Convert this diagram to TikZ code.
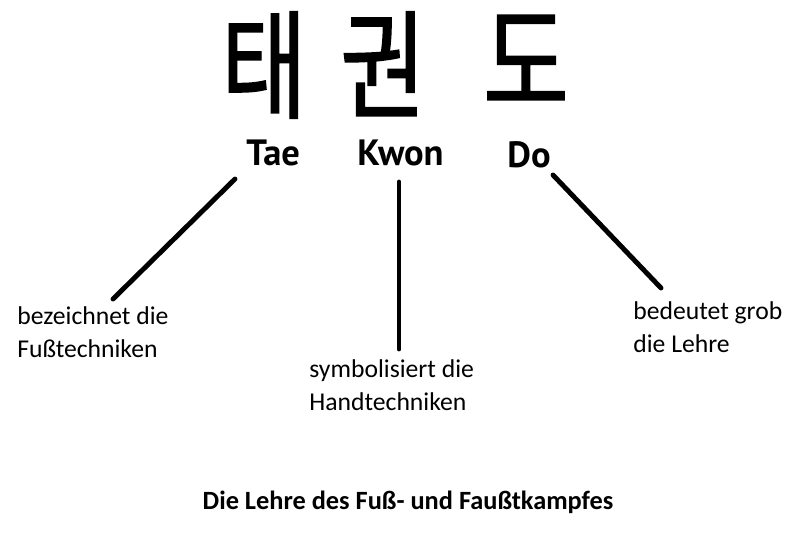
\documentclass[tikz,border=0pt]{standalone}
\usepackage{fontspec}
\setmainfont{Carlito}
\newfontfamily\hangulfont[FakeBold=1.5]{Noto Sans CJK KR}
\newfontfamily\wordfont{PT Sans}
\usetikzlibrary{positioning,calc}
\tikzset{
	hangul/.style={font=\hangulfont\fontsize{67}{75}\selectfont, inner sep=0pt, anchor=base, xscale=0.79, transform shape},
	word/.style={font=\wordfont\bfseries\fontsize{20.8}{24}\selectfont, inner sep=0pt, anchor=base west},
	meaning/.style={font=\fontsize{14.6}{18.5}\selectfont, inner sep=0pt, anchor=base west, align=left},
}
\begin{document}
\begin{tikzpicture}[x=0.02cm, y=-0.02cm]
		\useasboundingbox (0,0) rectangle (800,532);
		\node at (264,109) [hangul] (tae-h) {태};
		\node at (383,109) [hangul] (kwon-h) {권};
		\node at (526,104) [hangul] (do-h) {도};
		\node at (246,165) [word] (tae) {Tae};
		\node at (357,165) [word] (kwon) {Kwon};
		\node at (507,167) [word] (do) {Do};
		\node at (17,357) [meaning] (fuss) {bezeichnet die\\Fußtechniken};
		\node at (309,410) [meaning] (hand) {symbolisiert die\\Handtechniken};
		\node at (633,352) [meaning] (lehre) {bedeutet grob\\die Lehre};
		\node at (408,509) [font=\bfseries\fontsize{15}{18.5}\selectfont, inner sep=0pt, anchor=base] (title) {Die Lehre des Fuß- und Faußtkampfes};
		% line ends
		\coordinate (tae-a) at (235,179);
		\coordinate (tae-b) at (113,299);
		\coordinate (kwon-a) at (399,182);
		\coordinate (kwon-b) at (399,349);
		\coordinate (do-a) at (553,175);
		\coordinate (do-b) at (661,288);
		\draw [line width=2.8pt, line cap=round] (tae-a) edge (tae-b) (kwon-a) edge (kwon-b) (do-a) edge (do-b);
		\end{tikzpicture}
\end{document}
